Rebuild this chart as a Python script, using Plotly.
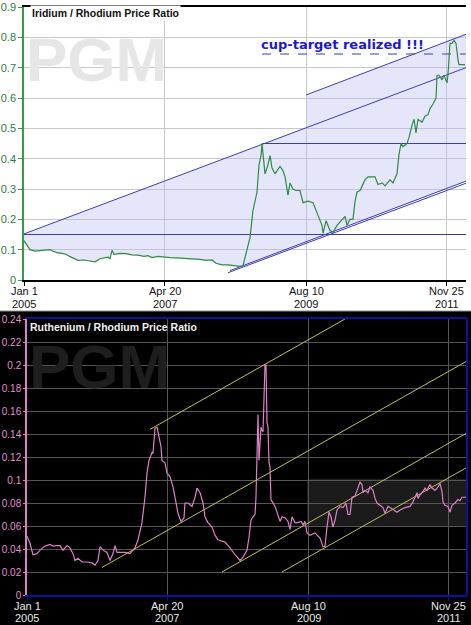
import numpy as np
import pandas as pd
import plotly.graph_objects as go

FONT = "Liberation Sans, Arial, sans-serif"

# ---------------- Iridium / Rhodium ratio (decimal year, ratio) ----------------
ir_year = [
    2005.000, 2005.049, 2005.098, 2005.180, 2005.261, 2005.343, 2005.424, 2005.473, 2005.539, 2005.620,
    2005.685, 2005.751, 2005.816, 2005.881, 2005.979, 2006.077, 2006.159, 2006.240, 2006.306, 2006.371,
    2006.404, 2006.436, 2006.469, 2006.567, 2006.665, 2006.763, 2006.860, 2006.958, 2007.024, 2007.089,
    2007.187, 2007.285, 2007.383, 2007.481, 2007.611, 2007.742, 2007.872, 2007.970, 2008.068, 2008.133,
    2008.231, 2008.329, 2008.427, 2008.525, 2008.574, 2008.607, 2008.639, 2008.688, 2008.737, 2008.786,
    2008.803, 2008.835, 2008.868, 2008.884, 2008.900, 2008.933, 2008.982, 2009.015, 2009.047, 2009.096,
    2009.178, 2009.227, 2009.260, 2009.308, 2009.341, 2009.390, 2009.439, 2009.504, 2009.553, 2009.635,
    2009.716, 2009.798, 2009.863, 2009.880, 2009.929, 2009.994, 2010.043, 2010.108, 2010.190, 2010.239,
    2010.271, 2010.320, 2010.369, 2010.402, 2010.435, 2010.484, 2010.565, 2010.614, 2010.728, 2010.777,
    2010.843, 2010.892, 2010.973, 2011.022, 2011.087, 2011.104, 2011.120, 2011.153, 2011.185, 2011.251,
    2011.283, 2011.332, 2011.365, 2011.397, 2011.430, 2011.495, 2011.544, 2011.593, 2011.626, 2011.675,
    2011.724, 2011.740, 2011.773, 2011.822, 2011.854, 2011.903, 2011.920, 2011.952, 2011.985, 2012.018,
    2012.050, 2012.083, 2012.099, 2012.197,
]
ir_ratio = [
    0.130, 0.115, 0.100, 0.095, 0.097, 0.100, 0.100, 0.095, 0.090, 0.088,
    0.085, 0.077, 0.070, 0.065, 0.066, 0.064, 0.060, 0.070, 0.073, 0.075,
    0.070, 0.098, 0.085, 0.088, 0.087, 0.083, 0.082, 0.078, 0.080, 0.074,
    0.078, 0.075, 0.074, 0.073, 0.072, 0.070, 0.068, 0.065, 0.066, 0.055,
    0.050, 0.050, 0.048, 0.045, 0.047, 0.075, 0.100, 0.140, 0.230, 0.270,
    0.290, 0.380, 0.410, 0.450, 0.420, 0.350, 0.380, 0.410, 0.370, 0.350,
    0.375, 0.360, 0.340, 0.280, 0.320, 0.300, 0.295, 0.295, 0.255, 0.260,
    0.255, 0.210, 0.180, 0.154, 0.195, 0.163, 0.157, 0.180, 0.200, 0.210,
    0.180, 0.200, 0.200, 0.260, 0.290, 0.295, 0.330, 0.340, 0.340, 0.315,
    0.320, 0.310, 0.330, 0.320, 0.350, 0.400, 0.415, 0.450, 0.440, 0.450,
    0.470, 0.510, 0.530, 0.485, 0.530, 0.520, 0.540, 0.545, 0.565, 0.580,
    0.600, 0.675, 0.675, 0.660, 0.675, 0.650, 0.680, 0.780, 0.780, 0.790,
    0.780, 0.725, 0.710, 0.710,
]

# trend lines on the iridium chart (endpoint years / values)
ir_channel_year = [2005.000, 2012.213]
ir_channel_val = [0.152, 0.700]
ir_upper_year = [2009.602, 2012.213]
ir_upper_val = [0.610, 0.810]
ir_support1_year = [2008.362, 2012.213]
ir_support1_val = [0.031, 0.326]
ir_support2_year = [2008.329, 2012.213]
ir_support2_val = [0.024, 0.319]
ir_level_val = [0.15, 0.45]
ir_level_start = [2005.000, 2008.884]
ir_target_val = 0.745
ir_target_start = 2008.884
ir_shade_join = 2008.525
ir_range = [2005.000, 2012.213]

# ---------------- Ruthenium / Rhodium ratio ----------------
ru_year = [
    2005.000, 2005.049, 2005.098, 2005.164, 2005.213, 2005.294, 2005.376, 2005.425, 2005.491, 2005.540,
    2005.589, 2005.654, 2005.703, 2005.752, 2005.785, 2005.834, 2005.899, 2005.981, 2006.063, 2006.112,
    2006.161, 2006.194, 2006.243, 2006.308, 2006.357, 2006.406, 2006.439, 2006.472, 2006.521, 2006.602,
    2006.684, 2006.766, 2006.815, 2006.848, 2006.880, 2006.929, 2006.962, 2006.995, 2007.011, 2007.044,
    2007.060, 2007.093, 2007.126, 2007.158, 2007.191, 2007.207, 2007.256, 2007.289, 2007.338, 2007.387,
    2007.436, 2007.469, 2007.518, 2007.567, 2007.583, 2007.632, 2007.698, 2007.747, 2007.780, 2007.829,
    2007.878, 2007.910, 2007.959, 2008.025, 2008.074, 2008.123, 2008.237, 2008.319, 2008.401, 2008.483,
    2008.532, 2008.597, 2008.630, 2008.662, 2008.695, 2008.728, 2008.744, 2008.761, 2008.777, 2008.793,
    2008.826, 2008.842, 2008.859, 2008.891, 2008.908, 2008.924, 2008.940, 2008.957, 2008.973, 2008.989,
    2009.022, 2009.055, 2009.088, 2009.137, 2009.169, 2009.218, 2009.267, 2009.300, 2009.333, 2009.382,
    2009.431, 2009.480, 2009.513, 2009.545, 2009.578, 2009.627, 2009.709, 2009.791, 2009.840, 2009.872,
    2009.905, 2009.938, 2009.970, 2010.003, 2010.036, 2010.069, 2010.118, 2010.167, 2010.216, 2010.248,
    2010.281, 2010.314, 2010.363, 2010.396, 2010.445, 2010.477, 2010.494, 2010.526, 2010.575, 2010.608,
    2010.657, 2010.690, 2010.723, 2010.772, 2010.821, 2010.853, 2010.902, 2010.935, 2010.984, 2011.050,
    2011.099, 2011.180, 2011.262, 2011.311, 2011.344, 2011.377, 2011.393, 2011.426, 2011.475, 2011.507,
    2011.540, 2011.589, 2011.622, 2011.671, 2011.720, 2011.753, 2011.785, 2011.802, 2011.834, 2011.883,
    2011.916, 2011.949, 2011.998, 2012.047, 2012.080, 2012.112, 2012.161, 2012.194,
]
ru_ratio = [
    0.051, 0.045, 0.035, 0.036, 0.039, 0.0425, 0.044, 0.0425, 0.043, 0.043,
    0.039, 0.043, 0.041, 0.036, 0.030, 0.032, 0.0287, 0.0287, 0.028, 0.026,
    0.030, 0.042, 0.039, 0.037, 0.030, 0.036, 0.043, 0.037, 0.037, 0.037,
    0.036, 0.041, 0.048, 0.057, 0.063, 0.085, 0.106, 0.117, 0.120, 0.124,
    0.123, 0.145, 0.146, 0.137, 0.129, 0.117, 0.115, 0.106, 0.103, 0.094,
    0.081, 0.071, 0.064, 0.067, 0.080, 0.080, 0.077, 0.085, 0.093, 0.089,
    0.080, 0.068, 0.063, 0.059, 0.052, 0.048, 0.046, 0.041, 0.035, 0.030,
    0.033, 0.039, 0.050, 0.065, 0.068, 0.070, 0.085, 0.117, 0.157, 0.117,
    0.146, 0.143, 0.142, 0.200, 0.200, 0.150, 0.146, 0.115, 0.111, 0.083,
    0.080, 0.077, 0.072, 0.064, 0.068, 0.067, 0.064, 0.057, 0.068, 0.063,
    0.063, 0.064, 0.061, 0.064, 0.054, 0.052, 0.054, 0.0495, 0.042, 0.042,
    0.059, 0.072, 0.068, 0.059, 0.065, 0.074, 0.077, 0.076, 0.080, 0.070,
    0.070, 0.085, 0.086, 0.091, 0.098, 0.096, 0.089, 0.091, 0.089, 0.094,
    0.091, 0.084, 0.080, 0.078, 0.076, 0.071, 0.077, 0.076, 0.074, 0.072,
    0.074, 0.076, 0.077, 0.081, 0.085, 0.089, 0.084, 0.087, 0.090, 0.093,
    0.091, 0.096, 0.093, 0.091, 0.094, 0.097, 0.090, 0.081, 0.078, 0.077,
    0.072, 0.078, 0.080, 0.083, 0.082, 0.085, 0.085, 0.085,
]

# parallel trend lines on the ruthenium chart
ru_trend_year0 = [2007.011, 2006.226, 2008.188, 2009.169]
ru_trend_val0 = [0.144, 0.024, 0.020, 0.020]
ru_trend_year1 = [2010.199, 2012.194, 2012.194, 2012.194]
ru_trend_val1 = [0.240, 0.2035, 0.141, 0.111]
ru_band_val = [0.060, 0.101]
ru_band_start = 2009.578
ru_range = [2005.000, 2012.194]

# axes ticks
x_tickvals = ["2005-01-01", "2007-04-20", "2009-08-10", "2011-11-25"]
x_tick_day = ["Jan 1", "Apr 20", "Aug 10", "Nov 25"]
x_tick_year = ["2005", "2007", "2009", "2011"]
ir_yticks = [0, 0.1, 0.2, 0.3, 0.4, 0.5, 0.6, 0.7, 0.8, 0.9]
ir_yticktext = ["0", "0.1", "0.2", "0.3", "0.4", "0.5", "0.6", "0.7", "0.8", "0.9"]
ru_yticks = [0, 0.02, 0.04, 0.06, 0.08, 0.1, 0.12, 0.14, 0.16, 0.18, 0.2, 0.22, 0.24]
ru_yticktext = ["0", "0.02", "0.04", "0.06", "0.08", "0.1", "0.12", "0.14", "0.16",
                "0.18", "0.2", "0.22", "0.24"]


def to_dates(years):
    yrs = np.atleast_1d(np.asarray(years, dtype=float))
    base = pd.Timestamp("2005-01-01")
    return [(base + pd.Timedelta(days=float((y - 2005.0) * 365.25))).strftime("%Y-%m-%d %H:%M:%S")
            for y in yrs]


def at(yr, ys, vs):
    return float(np.interp(yr, ys, vs))


BLUE = "#3c3cb0"
fig = go.Figure()

# ---- shaded channel on the iridium chart ----
ir_year_arr = np.array(ir_year)
ir_ratio_arr = np.array(ir_ratio)
mask = ir_year_arr <= ir_shade_join
poly_x = [ir_channel_year[0], ir_upper_year[0], ir_upper_year[0], ir_upper_year[1],
          ir_support1_year[1], ir_shade_join] + list(ir_year_arr[mask][::-1])
poly_y = [at(ir_channel_year[0], ir_channel_year, ir_channel_val),
          at(ir_upper_year[0], ir_channel_year, ir_channel_val),
          ir_upper_val[0], ir_upper_val[1],
          ir_support1_val[1],
          at(ir_shade_join, ir_support1_year, ir_support1_val)] + list(ir_ratio_arr[mask][::-1])
fig.add_trace(go.Scatter(x=to_dates(poly_x), y=poly_y, fill="toself", mode="lines",
                         line=dict(width=0), fillcolor="rgba(185,185,245,0.36)",
                         hoverinfo="skip", xaxis="x", yaxis="y"))

# trend lines
for ys, vs in [(ir_channel_year, ir_channel_val), (ir_upper_year, ir_upper_val),
               (ir_support1_year, ir_support1_val), (ir_support2_year, ir_support2_val)]:
    fig.add_trace(go.Scatter(x=to_dates(ys), y=vs, mode="lines",
                             line=dict(color=BLUE, width=1), xaxis="x", yaxis="y"))
for lv, st in zip(ir_level_val, ir_level_start):
    fig.add_trace(go.Scatter(x=to_dates([st, ir_range[1]]), y=[lv, lv], mode="lines",
                             line=dict(color=BLUE, width=1), xaxis="x", yaxis="y"))
fig.add_trace(go.Scatter(x=to_dates([ir_target_start, ir_range[1]]), y=[ir_target_val, ir_target_val],
                         mode="lines", line=dict(color=BLUE, width=1, dash="dash"),
                         xaxis="x", yaxis="y"))

fig.add_trace(go.Scatter(x=to_dates(ir_year), y=ir_ratio, mode="lines",
                         line=dict(color="#2e8b40", width=1.2), xaxis="x", yaxis="y"))

# ---- ruthenium chart ----
for y0, v0, y1, v1 in zip(ru_trend_year0, ru_trend_val0, ru_trend_year1, ru_trend_val1):
    fig.add_trace(go.Scatter(x=to_dates([y0, y1]), y=[v0, v1], mode="lines",
                             line=dict(color="#c0c060", width=1), xaxis="x2", yaxis="y2"))
fig.add_trace(go.Scatter(x=to_dates(ru_year), y=ru_ratio, mode="lines",
                         line=dict(color="#e07fc8", width=1.2), xaxis="x2", yaxis="y2"))

shapes = [
    dict(type="rect", xref="paper", yref="paper", x0=0, x1=1, y0=0, y1=1 - 311 / 625,
         fillcolor="black", line=dict(width=0), layer="below"),
    dict(type="line", xref="paper", yref="paper", x0=0, x1=1, y0=1 - 311 / 625, y1=1 - 311 / 625,
         line=dict(color="#909090", width=1), layer="below"),
    dict(type="rect", xref="x2", yref="y2",
         x0=to_dates([ru_band_start])[0], x1=to_dates([ru_range[1]])[0],
         y0=ru_band_val[0], y1=ru_band_val[1],
         fillcolor="#1b1b1b", line=dict(width=0), layer="below"),
    dict(type="line", xref="x2 domain", yref="y2 domain", x0=1, x1=1, y0=0, y1=1,
         line=dict(color="#1010a0", width=2)),
]

annotations = [
    dict(text="<b>PGM</b>", xref="paper", yref="paper", x=24 / 471, y=1 - 59 / 625,
         xanchor="left", yanchor="middle", showarrow=False,
         font=dict(family=FONT, size=62, color="#e6e6e6")),
    dict(text="<b>Iridium / Rhodium Price Ratio</b>", xref="paper", yref="paper",
         x=30 / 471, y=1 - 13 / 625, xanchor="left", yanchor="middle", showarrow=False,
         bgcolor="white", borderpad=1, font=dict(family=FONT, size=10.5, color="#111111")),
    dict(text="<b>cup-target realized !!!</b>", xref="paper", yref="paper",
         x=259 / 471, y=1 - 44 / 625, xanchor="left", yanchor="middle", showarrow=False,
         font=dict(family="DejaVu Sans, sans-serif", size=13, color="#1a1acc")),
    dict(text="<b>PGM</b>", xref="paper", yref="paper", x=27 / 471, y=1 - 366 / 625,
         xanchor="left", yanchor="middle", showarrow=False,
         font=dict(family=FONT, size=62, color="#1e1e1e")),
    dict(text="<b>Ruthenium / Rhodium Price Ratio</b>", xref="paper", yref="paper",
         x=28 / 471, y=1 - 327 / 625, xanchor="left", yanchor="middle", showarrow=False,
         font=dict(family=FONT, size=10.5, color="#f0f0f0")),
]

# two-line date tick labels placed under each axis tick
for tv, day, yr in zip(x_tickvals, x_tick_day, x_tick_year):
    for xref, y1, y2, col in [("x", 291, 304, "#111111"), ("x2", 606, 618, "#e8e8e8")]:
        annotations.append(dict(text=day, xref=xref, yref="paper", x=tv, y=1 - y1 / 625,
                                xanchor="center", yanchor="middle", showarrow=False,
                                font=dict(family=FONT, size=11, color=col)))
        annotations.append(dict(text=yr, xref=xref, yref="paper", x=tv, y=1 - y2 / 625,
                                xanchor="center", yanchor="middle", showarrow=False,
                                font=dict(family=FONT, size=11, color=col)))

fig.update_layout(
    width=471, height=625, margin=dict(l=0, r=0, t=0, b=0, pad=0),
    paper_bgcolor="white", plot_bgcolor="rgba(0,0,0,0)", showlegend=False,
    font=dict(family=FONT),
    shapes=shapes, annotations=annotations,
    xaxis=dict(domain=[24 / 471, 466 / 471], anchor="y", type="date", automargin=False,
               range=to_dates(ir_range), tickvals=x_tickvals, showticklabels=False,
               showgrid=True, gridcolor="#c8c8c8", gridwidth=1,
               showline=True, linecolor="black", linewidth=1.5, mirror=True,
               ticks="outside", ticklen=4, tickcolor="black", zeroline=False),
    yaxis=dict(domain=[1 - 280 / 625, 1 - 7 / 625], anchor="x", range=[0, 0.9], automargin=False,
               tickvals=ir_yticks, ticktext=ir_yticktext, ticklabeloverflow="allow",
               showgrid=True, gridcolor="#c8c8c8", gridwidth=1,
               showline=True, linecolor="#3a9a4a", linewidth=1.5,
               ticks="outside", ticklen=4, tickcolor="#3a9a4a",
               tickfont=dict(family=FONT, size=11, color="#2a7a3a"), zeroline=False),
    xaxis2=dict(domain=[27 / 471, 467 / 471], anchor="y2", type="date", automargin=False,
                range=to_dates(ru_range), tickvals=x_tickvals, showticklabels=False,
                showgrid=True, gridcolor="#555555", gridwidth=1,
                showline=True, linecolor="#1010a0", linewidth=2, mirror=True,
                ticks="outside", ticklen=4, tickcolor="#1010a0", zeroline=False),
    yaxis2=dict(domain=[1 - 595 / 625, 1 - 319 / 625], anchor="x2", range=[0, 0.24], automargin=False,
                tickvals=ru_yticks, ticktext=ru_yticktext, ticklabeloverflow="allow",
                showgrid=True, gridcolor="#555555", gridwidth=1,
                showline=True, linecolor="#e07fc8", linewidth=1.5,
                ticks="outside", ticklen=2, tickcolor="#e07fc8",
                tickfont=dict(family=FONT, size=10, color="#e090d0"), zeroline=False),
)

fig.write_html("out.html")
